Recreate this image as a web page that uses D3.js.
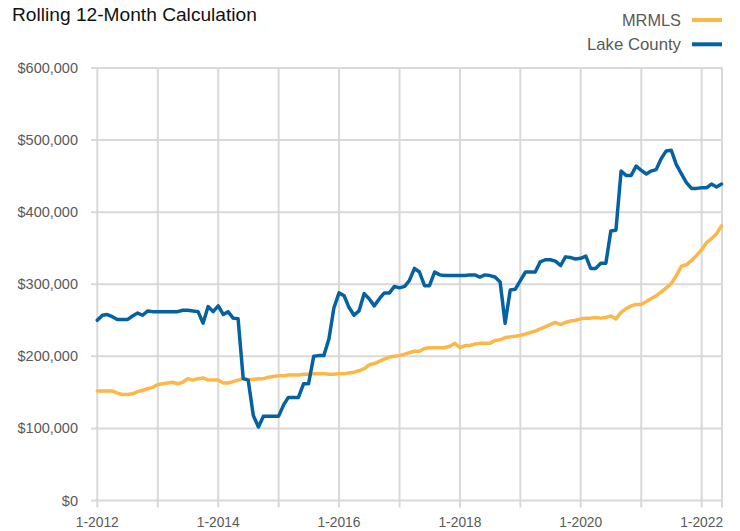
<!DOCTYPE html>
<html><head><meta charset="utf-8">
<script src="https://cdn.jsdelivr.net/npm/d3@7"></script>
<style>
body{margin:0;background:#fff;}
svg{display:block;}
text{font-family:"Liberation Sans",Arial,sans-serif;}
</style></head>
<body>
<svg id="chart" width="740" height="531"></svg>
<script>
// ---- data (thousands of dollars), monthly Jan 2012 .. May 2022 ----
const startYear = 2012;
const seriesNames = ["MRMLS", "Lake County"];
const mrmls = [152,152,152,152,149,147,147,148,151,153,155,157,
  161,162,163,164,162,164,169,167,169,170,167,167,
  167,163,163,165,167,169,168,168,169,169,171,172,
  173,173,174,174,174,175,175,176,176,176,175,175,
  176,176,177,178,180,183,188,190,193,196,199,200,
  201,203,205,207,207,211,212,212,212,212,214,218,
  212,215,215,217,218,218,218,222,223,226,227,228,
  229,231,233,235,238,241,244,247,244,247,249,250,
  252,253,253,254,253,254,256,252,261,266,270,272,
  272,276,280,284,289,295,301,312,325,327,333,340,
  348,358,363,370,381];
const lakeCounty = [250,257,258,255,251,251,251,256,260,257,263,262,
  262,262,262,262,262,264,264,263,262,246,269,262,
  270,258,262,253,252,169,167,118,102,117,117,117,
  117,133,143,143,143,162,162,200,201,201,224,267,
  288,284,268,257,263,287,280,270,280,288,288,297,
  295,297,305,322,317,298,298,317,313,312,312,312,
  312,312,313,313,310,313,312,310,303,246,292,293,
  305,317,317,317,331,334,334,332,326,338,337,335,
  336,339,322,322,329,329,374,375,457,451,451,464,
  458,453,457,459,474,485,486,466,453,441,433,433,
  434,434,439,435,439];
const yTicks = [0,100,200,300,400,500,600];
const xTickLabels = ["1-2012","1-2014","1-2016","1-2018","1-2020","1-2022"];
const colors = ["#fbb848", "#0562a2"];

// ---- layout ----
const svg = d3.select("#chart");
const pL = 97.3, pR = 721.5, pT = 68, pB = 500.5;
const dates = mrmls.map((_, i) => new Date(startYear, i, 1));
const x = d3.scaleTime().domain([dates[0], dates[dates.length - 1]]).range([pL, pR]);
const y = d3.scaleLinear().domain([0, 600]).range([pB, pT]);
const grid = "#d9d9d9";

// condensed font detection
const NARROW = "'Liberation Sans Narrow', 'DejaVu Sans Mono', monospace";
const probe = svg.append("text").attr("font-family", NARROW).attr("font-size", 100).text("MMMMMMMMMM");
const pw = probe.node().getComputedTextLength();
probe.remove();
const hasNarrow = Math.abs(pw - 683) < 25;

// place a condensed-looking text fitted to a target width
function fitText(g, str, xPos, yPos, size, targetW, anchor) {
  const t = g.append("text").attr("y", yPos).text(str);
  if (hasNarrow) {
    t.attr("font-family", "'Liberation Sans Narrow'").attr("font-size", size);
    const w = t.node().getComputedTextLength();
    const ls = (targetW - w) / Math.max(1, str.length - 1);
    t.attr("letter-spacing", ls);
  } else {
    t.attr("font-size", size);
    const w = t.node().getComputedTextLength();
    t.attr("font-size", size * targetW / w);
  }
  const x0 = anchor === "end" ? xPos - targetW : anchor === "middle" ? xPos - targetW / 2 : xPos;
  t.attr("x", x0);
  return t;
}

// horizontal gridlines
svg.append("g").selectAll("line").data(yTicks).join("line")
  .attr("x1", 91).attr("x2", pR + 1)
  .attr("y1", d => y(d)).attr("y2", d => y(d))
  .attr("stroke", grid).attr("stroke-width", 2);

// vertical gridlines each January + right edge
const years = d3.range(startYear, 2023).map(yr => new Date(yr, 0, 1));
svg.append("g").selectAll("line").data(years).join("line")
  .attr("x1", d => x(d)).attr("x2", d => x(d))
  .attr("y1", pT).attr("y2", pB + 7)
  .attr("stroke", grid).attr("stroke-width", 2);
svg.append("line").attr("x1", pR + 0.5).attr("x2", pR + 0.5)
  .attr("y1", pT).attr("y2", pB + 7).attr("stroke", grid).attr("stroke-width", 2);

// y labels
svg.append("g").selectAll("text").data(yTicks).join("text")
  .attr("x", 78).attr("y", d => y(d)).attr("dy", "0.35em")
  .attr("text-anchor", "end").attr("fill", "#595959").attr("font-size", 14.5)
  .text(d => d3.format("$,")(d * 1000));

// x labels
const xg = svg.append("g").attr("fill", "#595959");
xTickLabels.forEach(s => {
  const [m, yr] = s.split("-").map(Number);
  fitText(xg, s, x(new Date(yr, m - 1, 1)), 527, 15.5, 43, "middle");
});

// lines
const line = d3.line().x((d, i) => x(dates[i])).y(d => y(d)).curve(d3.curveLinear);
[mrmls, lakeCounty].forEach((s, k) => {
  svg.append("path").datum(s).attr("d", line)
    .attr("fill", "none").attr("stroke", colors[k]).attr("stroke-width", 3.5)
    .attr("stroke-linejoin", "round").attr("stroke-linecap", "round");
});

// title
const tg = svg.append("g").attr("fill", "#111");
fitText(tg, "Rolling 12-Month Calculation", 12, 20.5, 20.5, 245, "start");

// legend
const legY = [20, 44.3];
const legW = [59, 94];
const lg = svg.append("g").attr("fill", "#595959");
seriesNames.forEach((n, k) => {
  fitText(lg, n, 681, legY[k] + 6, 17.5, legW[k], "end");
  svg.append("line").attr("x1", 692).attr("x2", 722).attr("y1", legY[k]).attr("y2", legY[k])
    .attr("stroke", colors[k]).attr("stroke-width", 4);
});
</script>
</body></html>
